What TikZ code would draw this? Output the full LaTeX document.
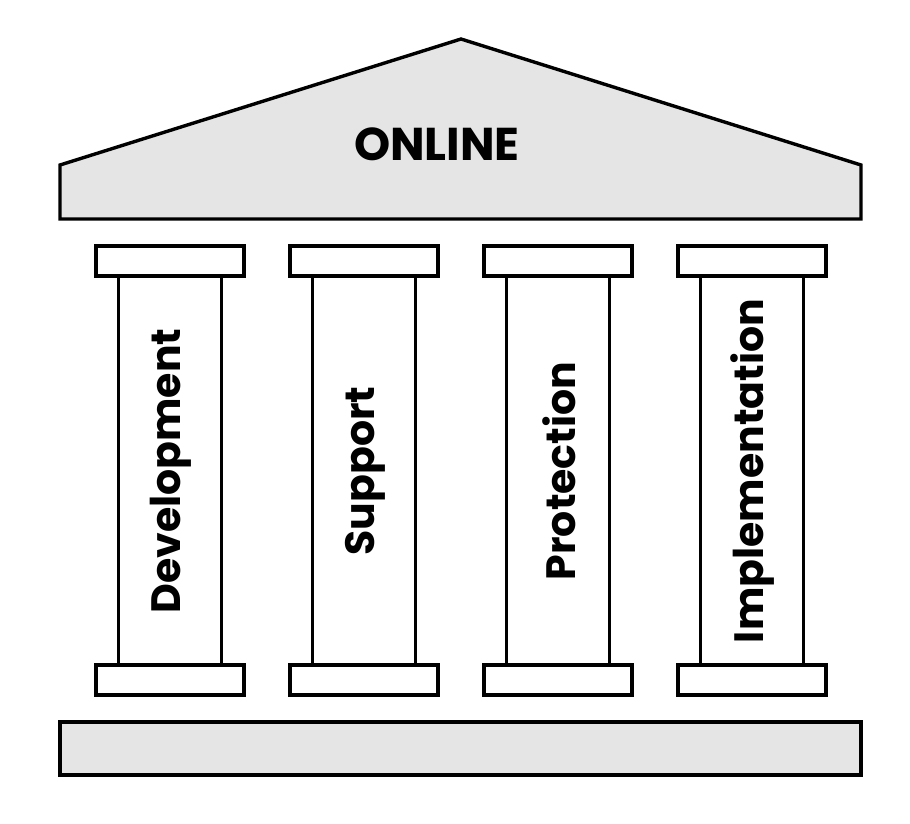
\documentclass[tikz,border=0pt]{standalone}
\usepackage{fontspec}
\setmainfont{Poppins}
\tikzset{
  part/.style={draw=black, line width=3.4pt, line join=miter},
  grayfill/.style={part, fill=black!10},
  whitefill/.style={part, fill=white},
  pillartext/.style={rotate=90, font=\fontsize{41}{41}\selectfont\bfseries, inner sep=0pt},
}
\begin{document}
\begin{tikzpicture}[x=1pt,y=-1pt]
\useasboundingbox (0,0) rectangle (910,823);
% roof
\draw[grayfill] (60,165) -- (461,39) -- (861,165) -- (861,219) -- (60,219) -- cycle;
\node[font=\fontsize{46}{46}\selectfont\bfseries, inner sep=0pt] (online) at (437,144) {ONLINE};
% base
\draw[grayfill] (60,722) rectangle (861,775);
% pillars
\foreach \cx/\lbl/\nm in {170/Development/p1, 364/Support/p2, 558/Protection/p3, 752/Implementation/p4}{
  \draw[whitefill] (\cx-51.5,276) rectangle (\cx+51.5,665);
  \draw[whitefill] (\cx-74,246) rectangle (\cx+74,276);
  \draw[whitefill] (\cx-74,665) rectangle (\cx+74,695);
  \node[pillartext] (\nm) at (\cx+1,471) {\lbl};
}
\end{tikzpicture}
\end{document}
